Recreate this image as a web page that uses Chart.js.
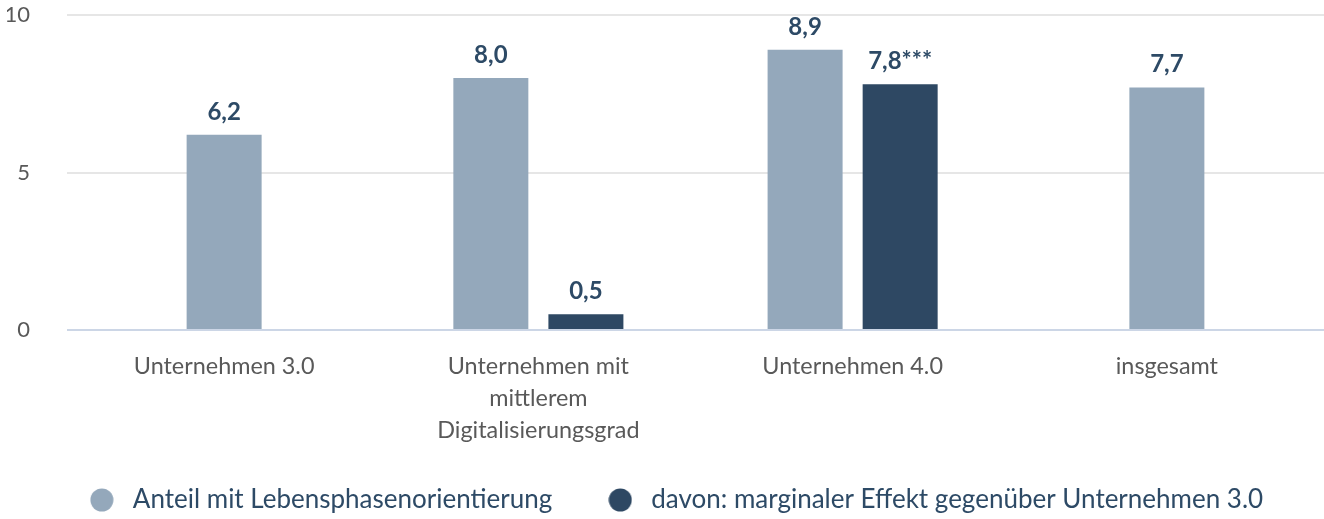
<!DOCTYPE html>
<html>
<head>
<meta charset="utf-8">
<script src="https://cdn.jsdelivr.net/npm/chart.js@4/dist/chart.umd.min.js"></script>
<style>
  html, body { margin: 0; padding: 0; background: #ffffff; }
  #wrap { width: 1324px; height: 519px; position: relative; }
</style>
</head>
<body>
<div id="wrap"><canvas id="c"></canvas></div>
<script>
const categories = [
  ["Unternehmen 3.0"],
  ["Unternehmen mit", "mittlerem", "Digitalisierungsgrad"],
  ["Unternehmen 4.0"],
  ["insgesamt"]
];
const seriesNames = [
  "Anteil mit Lebensphasenorientierung",
  "davon: marginaler Effekt gegenüber Unternehmen 3.0"
];
const shareValues = [6.2, 8.0, 8.9, 7.7];
const marginalValues = [null, 0.5, 7.8, null];
const shareLabels = ["6,2", "8,0", "8,9", "7,7"];
const marginalLabels = [null, "0,5", "7,8***", null];
const yTicks = [0, 5, 10];

const FONT = "Lato, 'Source Sans Pro', 'Noto Sans', sans-serif";
const lightColor = "#94a8bb";
const darkColor = "#2e4863";
const labelColor = "#2d4a66";

function dot(color) {
  const c = document.createElement("canvas");
  c.width = 24; c.height = 24;
  const g = c.getContext("2d");
  g.fillStyle = color;
  g.beginPath();
  g.arc(12, 12, 11.5, 0, Math.PI * 2);
  g.fill();
  return c;
}

const valueLabelPlugin = {
  id: "valueLabels",
  afterDatasetsDraw(chart) {
    const ctx = chart.ctx;
    const texts = [shareLabels, marginalLabels];
    ctx.save();
    ctx.font = "bold 24px " + FONT;
    ctx.fillStyle = labelColor;
    ctx.textAlign = "center";
    ctx.textBaseline = "alphabetic";
    chart.data.datasets.forEach((ds, di) => {
      const meta = chart.getDatasetMeta(di);
      meta.data.forEach((bar, i) => {
        const t = texts[di][i];
        if (t == null || ds.data[i] == null) return;
        ctx.fillText(t, bar.x, bar.y - 15);
      });
    });
    ctx.restore();
  }
};

const layoutTweaks = {
  id: "layoutTweaks",
  beforeLayout(chart) {
    Object.values(chart.scales).forEach((s) => {
      s.getPadding = () => ({ left: 0, top: 0, right: 0, bottom: 0 });
    });
  },
  afterLayout(chart) {
    const lg = chart.legend;
    if (lg) {
      lg.left += 8; lg.right += 8;
      lg.top -= 10; lg.bottom -= 10;
    }
  }
};

function noScalePadding(scale) {
  scale.paddingLeft = 0;
  scale.paddingRight = 0;
  scale.paddingTop = 0;
  scale.paddingBottom = 0;
}

new Chart(document.getElementById("c"), {
  type: "bar",
  data: {
    labels: categories,
    datasets: [
      {
        label: seriesNames[0],
        data: shareValues,
        backgroundColor: lightColor,
        categoryPercentage: 0.605,
        barPercentage: 0.79,
        maxBarThickness: 75
      },
      {
        label: seriesNames[1],
        data: marginalValues,
        backgroundColor: darkColor,
        categoryPercentage: 0.605,
        barPercentage: 0.79,
        maxBarThickness: 75
      }
    ]
  },
  plugins: [valueLabelPlugin, layoutTweaks],
  options: {
    responsive: true,
    maintainAspectRatio: false,
    animation: false,
    skipNull: true,
    layout: { autoPadding: false, padding: { left: 7, right: 0, top: 15, bottom: -14 } },
    scales: {
      x: {
        grid: { display: false, drawTicks: false },
        border: { display: false },
        afterFit(scale) { noScalePadding(scale); scale.height = 117; },
        ticks: {
          color: "#595959",
          font: { family: FONT, size: 23.4, lineHeight: 1.35 },
          padding: 21,
          maxRotation: 0,
          autoSkip: false
        }
      },
      y: {
        min: 0,
        max: 10,
        afterBuildTicks(scale) { scale.ticks = yTicks.map(v => ({ value: v })); },
        afterFit(scale) { noScalePadding(scale); scale.width = 60; },
        grid: {
          drawTicks: false,
          lineWidth: 2,
          color: (ctx) => ctx.tick && ctx.tick.value === 0 ? "#ccd6e6" : "#e6e6e6"
        },
        border: { display: false },
        ticks: {
          color: "#595959",
          font: { family: FONT, size: 22 },
          padding: 37
        }
      }
    },
    plugins: {
      tooltip: { enabled: false },
      legend: {
        position: "bottom",
        labels: {
          usePointStyle: true,
          pointStyleWidth: 36,
          boxHeight: 16,
          padding: 50,
          color: labelColor,
          font: { family: FONT, size: 26 },
          generateLabels(chart) {
            const items = Chart.defaults.plugins.legend.labels.generateLabels(chart);
            const cols = [lightColor, darkColor];
            items.forEach((it, i) => { it.pointStyle = dot(cols[i]); });
            return items;
          }
        }
      }
    }
  }
});
</script>
</body>
</html>
